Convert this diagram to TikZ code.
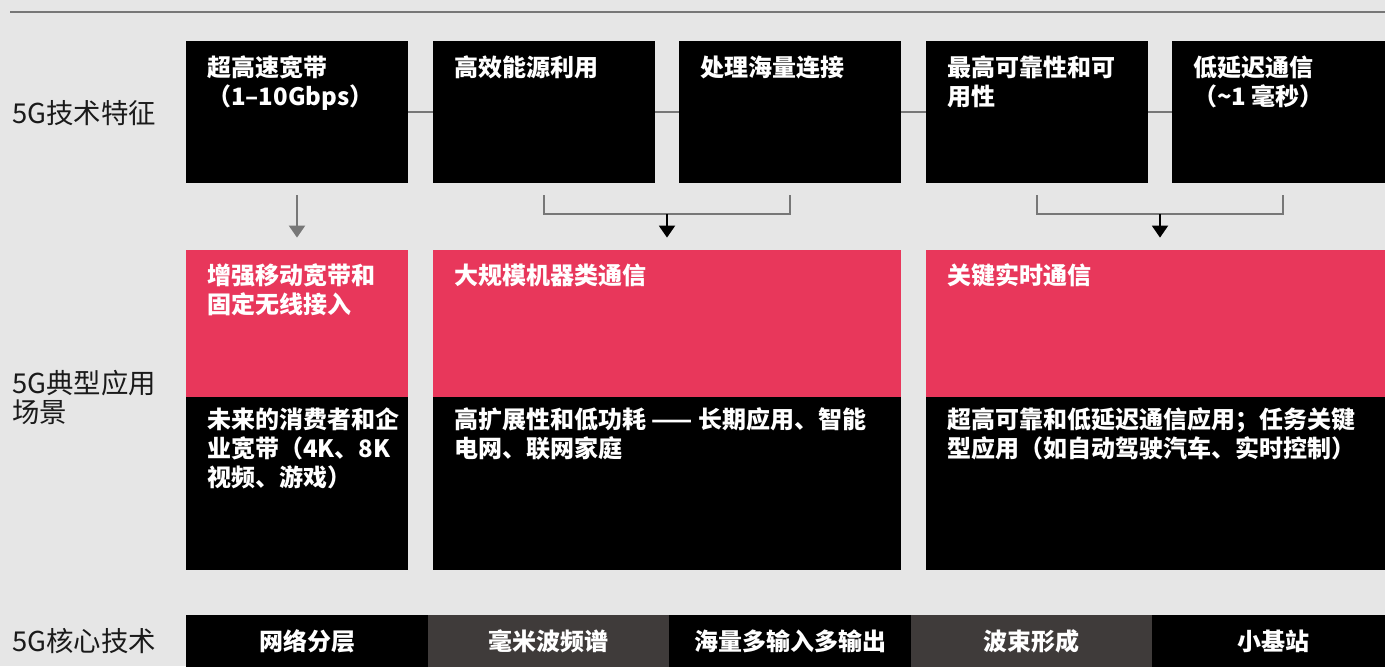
\documentclass[tikz,border=0pt]{standalone}
\usepackage{fontspec}
\setmainfont{Noto Sans CJK SC}
\usetikzlibrary{positioning,arrows.meta,calc}
\definecolor{bgray}{HTML}{E6E6E6}
\definecolor{pinkred}{HTML}{E8375B}
\definecolor{segdark}{HTML}{3F3B3A}
\definecolor{linegray}{HTML}{777777}
\definecolor{labelink}{HTML}{1A1A1A}

\tikzset{
  featbox/.style={fill=black, minimum width=111pt, minimum height=71pt, inner sep=0},
  appbox/.style={fill=pinkred, minimum height=73.5pt, inner sep=0},
  usebox/.style={fill=black, minimum height=86.5pt, inner sep=0},
  techseg/.style={minimum width=121pt, minimum height=26pt, inner sep=0,
    text=white, font=\bfseries\fontsize{12pt}{14.5pt}\selectfont},
  boxtext/.style={anchor=north west, inner sep=0, text=white, align=left,
    font=\bfseries\fontsize{12pt}{14.5pt}\selectfont},
  rowlabel/.style={anchor=west, inner sep=0, text=labelink, align=left,
    font=\fontsize{13.7pt}{14.5pt}\selectfont},
  conn/.style={draw=linegray, line width=1pt},
  grayarr/.style={draw=linegray, line width=1pt, -{Triangle[width=8pt,length=6pt]}},
  blackarr/.style={draw=black, line width=1pt, -{Triangle[width=8pt,length=6pt]}}
}

\begin{document}
\begin{tikzpicture}[x=0.5pt,y=-0.5pt]
  \useasboundingbox (0,0) rectangle (1385,666);
  \fill[bgray] (0,0) rectangle (1385,666);
  \clip (0,0) rectangle (1385,666);

  % top rule
  \coordinate (rulel) at (10,12);
  \coordinate (ruler) at (1385,12);
  \draw[conn] (rulel) -- (ruler);

  % row labels
  \node[rowlabel] (lfeat) at (12,113) {5G技术特征};
  \node[rowlabel] (lapp) at (12,397) {5G典型应用\\场景};
  \node[rowlabel] (ltech) at (12,641) {5G核心技术};

  % features
  \node[featbox] (f1) at (297,112) {};
  \node[featbox] (f2) at (544,112) {};
  \node[featbox] (f3) at (790,112) {};
  \node[featbox] (f4) at (1037,112) {};
  \node[featbox] (f5) at (1283,112) {};
  \draw[conn] (f1) -- (f2);
  \draw[conn] (f2) -- (f3);
  \draw[conn] (f3) -- (f4);
  \draw[conn] (f4) -- (f5);

  \node[boxtext] (t1) at ([xshift=10.5pt,yshift=-7.5pt]f1.north west) {超高速宽带\\（1–10Gbps）};
  \node[boxtext] (t2) at ([xshift=10.5pt,yshift=-7.5pt]f2.north west) {高效能源利用};
  \node[boxtext] (t3) at ([xshift=10.5pt,yshift=-7.5pt]f3.north west) {处理海量连接};
  \node[boxtext] (t4) at ([xshift=10.5pt,yshift=-7.5pt]f4.north west) {最高可靠性和可\\用性};
  \node[boxtext] (t5) at ([xshift=10.5pt,yshift=-7.5pt]f5.north west) {低延迟通信\\（\textasciitilde 1 毫秒）};

  % applications
  \node[appbox, minimum width=111pt] (a1) at (297,323.5) {};
  \node[appbox, minimum width=234pt] (a2) at (667,323.5) {};
  \node[appbox, minimum width=234pt] (a3) at (1160,323.5) {};
  \node[usebox, minimum width=111pt] (b1) at (297,483.5) {};
  \node[usebox, minimum width=234pt] (b2) at (667,483.5) {};
  \node[usebox, minimum width=234pt] (b3) at (1160,483.5) {};

  \node[boxtext] (p1) at ([xshift=10.5pt,yshift=-7pt]a1.north west) {增强移动宽带和\\固定无线接入};
  \node[boxtext] (p2) at ([xshift=10.5pt,yshift=-7pt]a2.north west) {大规模机器类通信};
  \node[boxtext] (p3) at ([xshift=10.5pt,yshift=-7pt]a3.north west) {关键实时通信};
  \node[boxtext] (u1) at ([xshift=10.5pt,yshift=-5.5pt]b1.north west) {未来的消费者和企\\业宽带（4K、8K\\视频、游戏）};
  \node[boxtext] (u2) at ([xshift=10.5pt,yshift=-5.5pt]b2.north west) {高扩展性和低功耗 —— 长期应用、智能\\电网、联网家庭};
  \node[boxtext] (u3) at ([xshift=10.5pt,yshift=-5.5pt]b3.north west) {超高可靠和低延迟通信应用；任务关键\\型应用（如自动驾驶汽车、实时控制）};

  % features -> applications
  \draw[grayarr] ([yshift=-6pt]f1.south) -- ([yshift=6pt]a1.north);
  \coordinate (m2) at ($(f2.south)!0.5!(f3.south)+(0,-15.5pt)$);
  \draw[conn] ([yshift=-6pt]f2.south) |- (m2) -| ([yshift=-6pt]f3.south);
  \draw[blackarr] (m2) -- ([yshift=6pt]a2.north);
  \coordinate (m3) at ($(f4.south)!0.5!(f5.south)+(0,-15.5pt)$);
  \draw[conn] ([yshift=-6pt]f4.south) |- (m3) -| ([yshift=-6pt]f5.south);
  \draw[blackarr] (m3) -- ([yshift=6pt]a3.north);

  % core technologies
  \node[techseg, fill=black] (c1) at (307,641) {网络分层};
  \node[techseg, fill=segdark] (c2) at (548.5,641) {毫米波频谱};
  \node[techseg, fill=black] (c3) at (790,641) {海量多输入多输出};
  \node[techseg, fill=segdark] (c4) at (1031.5,641) {波束形成};
  \node[techseg, fill=black] (c5) at (1273,641) {小基站};
\end{tikzpicture}
\end{document}
